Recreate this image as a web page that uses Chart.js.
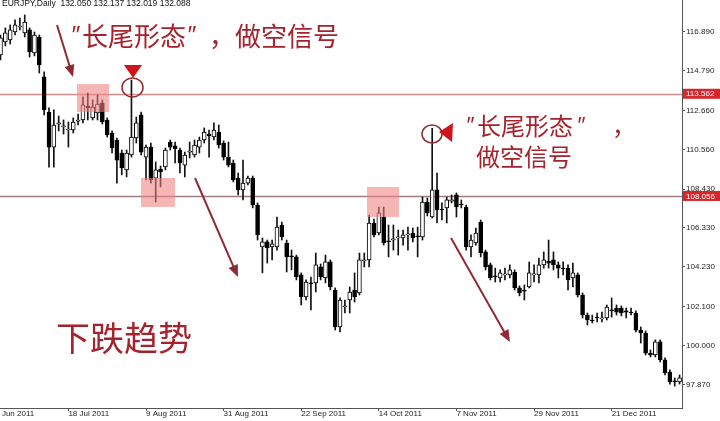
<!DOCTYPE html>
<html>
<head>
<meta charset="utf-8">
<script src="https://cdn.jsdelivr.net/npm/chart.js@4/dist/chart.umd.min.js"></script>
<style>
  html, body { margin: 0; padding: 0; background: #fff; }
  canvas { display: block; }
</style>
</head>
<body>
<canvas id="chart" width="720" height="421"></canvas>
<script>
// daily candles, one value per bar
const opens = [
  115.65, 116.35, 116.46, 116.89, 117.16, 116.84, 117.00, 115.76, 116.62, 114.47,
  112.58, 110.69, 111.93, 111.77, 111.61, 111.61, 112.09, 112.15, 112.90, 112.26,
  112.53, 113.06, 112.15, 111.45, 111.07, 110.37, 109.46, 110.26, 111.18, 112.42,
  110.15, 110.69, 109.02, 109.51, 109.62, 110.96, 110.75, 110.53, 109.72, 110.42,
  110.26, 110.69, 111.07, 111.39, 111.23, 111.50, 110.91, 110.15, 109.83, 109.02,
  108.38, 108.75, 109.02, 107.57, 105.31, 105.58, 105.31, 105.31, 106.49, 105.52,
  104.82, 104.77, 103.80, 102.61, 103.37, 103.37, 104.23, 103.64, 104.50, 102.99,
  101.00, 102.07, 102.45, 102.99, 102.83, 104.55, 104.61, 106.60, 106.06, 106.92,
  105.63, 105.68, 105.79, 105.79, 105.96, 106.06, 105.90, 105.85, 107.73, 106.92,
  108.38, 107.35, 107.41, 107.78, 108.11, 107.62, 107.46, 105.31, 105.52, 106.65,
  105.04, 104.34, 103.75, 103.64, 103.80, 103.80, 103.96, 103.10, 102.99, 103.15,
  103.80, 103.80, 104.34, 104.55, 104.61, 104.34, 104.17, 104.17, 103.64, 103.80,
  102.72, 101.64, 101.37, 101.53, 101.43, 101.48, 101.91, 102.02, 102.02, 101.86,
  101.80, 101.75, 100.83, 100.67, 99.59, 99.49, 100.19, 99.22, 98.57, 98.09,
  98.03
];
const highs = [
  116.73, 117.11, 117.27, 117.54, 117.64, 117.81, 117.11, 116.89, 116.73, 114.74,
  112.80, 112.69, 112.36, 112.15, 112.04, 112.26, 112.47, 113.39, 113.60, 113.23,
  113.50, 113.23, 112.26, 111.56, 111.18, 110.53, 110.53, 114.30, 112.31, 112.58,
  110.80, 110.91, 109.89, 109.67, 110.64, 111.07, 110.96, 110.64, 110.42, 110.96,
  111.07, 111.23, 111.72, 111.61, 111.99, 111.88, 111.02, 110.96, 109.99, 109.29,
  109.99, 109.13, 109.13, 107.68, 105.79, 105.68, 105.68, 106.92, 106.65, 105.68,
  105.14, 104.87, 103.91, 103.53, 103.69, 104.98, 104.39, 104.87, 104.61, 103.10,
  102.56, 102.45, 103.15, 103.91, 104.98, 104.98, 107.03, 106.81, 107.46, 107.46,
  106.49, 106.49, 106.22, 106.22, 106.38, 106.33, 106.38, 108.00, 107.95, 111.70,
  109.29, 107.68, 108.00, 108.11, 108.22, 107.84, 107.57, 105.96, 106.33, 106.76,
  105.14, 104.44, 104.17, 104.07, 104.17, 104.34, 104.07, 103.21, 103.26, 104.50,
  104.34, 104.71, 105.04, 105.68, 105.04, 104.50, 104.50, 104.34, 104.44, 103.91,
  102.83, 101.75, 101.64, 101.75, 101.80, 102.18, 102.56, 102.18, 102.13, 102.02,
  102.02, 101.86, 101.00, 100.78, 99.76, 100.30, 100.30, 99.33, 98.68, 98.25,
  98.41
];
const lows = [
  115.38, 116.14, 116.24, 116.73, 117.00, 116.62, 115.54, 115.60, 114.68, 112.42,
  109.61, 109.61, 111.56, 111.39, 110.69, 111.45, 111.88, 111.99, 112.15, 112.15,
  112.15, 111.93, 111.23, 110.37, 108.75, 109.19, 109.08, 110.15, 110.91, 110.26,
  108.92, 108.75, 107.73, 108.54, 109.46, 110.53, 109.83, 109.29, 109.08, 110.10,
  110.15, 110.37, 110.91, 110.15, 111.07, 110.64, 109.99, 109.62, 108.81, 108.11,
  107.84, 108.65, 107.41, 105.68, 103.91, 104.44, 104.61, 105.14, 105.68, 103.96,
  104.07, 103.53, 102.18, 102.45, 101.91, 102.88, 103.53, 103.37, 102.99, 100.83,
  100.73, 101.75, 101.75, 102.34, 102.72, 104.23, 104.23, 105.85, 105.96, 105.41,
  104.77, 105.14, 104.87, 105.41, 105.14, 105.58, 104.77, 105.68, 106.98, 106.87,
  106.60, 106.76, 106.60, 107.68, 106.92, 107.41, 105.14, 104.77, 105.41, 104.77,
  104.07, 103.53, 103.42, 103.42, 103.53, 103.64, 102.99, 102.67, 102.45, 103.10,
  103.42, 103.37, 104.17, 104.17, 104.07, 103.64, 103.80, 102.99, 103.15, 102.61,
  101.48, 101.10, 101.21, 101.27, 101.27, 101.37, 101.53, 101.64, 101.59, 101.48,
  101.64, 100.73, 100.13, 99.49, 99.38, 99.38, 99.11, 98.41, 97.92, 97.81,
  97.92
];
const closes = [
  116.57, 116.84, 117.00, 117.27, 117.21, 117.43, 115.81, 116.73, 115.11, 112.69,
  110.69, 111.88, 111.99, 111.83, 111.66, 112.04, 112.15, 112.96, 112.80, 112.85,
  113.01, 112.04, 111.34, 110.64, 109.99, 109.56, 110.37, 111.23, 111.99, 110.42,
  110.69, 108.92, 109.46, 109.35, 110.53, 110.69, 110.59, 109.83, 110.26, 110.48,
  110.80, 111.07, 111.50, 111.29, 111.61, 110.80, 110.15, 109.72, 108.92, 108.38,
  108.75, 109.02, 107.57, 105.96, 105.58, 105.25, 105.47, 106.38, 105.85, 104.77,
  104.77, 103.69, 102.61, 103.42, 103.31, 104.34, 103.69, 104.50, 103.15, 101.00,
  102.45, 102.13, 102.88, 102.61, 104.61, 104.61, 106.60, 105.96, 107.14, 105.52,
  105.58, 105.74, 105.85, 105.96, 106.01, 105.79, 105.85, 107.73, 107.14, 108.38,
  107.30, 107.30, 107.84, 107.84, 107.46, 107.57, 105.31, 105.68, 106.06, 104.98,
  104.23, 103.64, 103.69, 103.91, 103.85, 104.07, 103.10, 102.83, 102.93, 103.91,
  103.85, 104.34, 104.61, 104.44, 104.34, 104.17, 104.12, 103.53, 103.91, 102.72,
  101.64, 101.37, 101.32, 101.48, 101.48, 102.07, 101.86, 101.80, 101.75, 101.80,
  101.75, 100.83, 100.67, 99.59, 99.49, 100.19, 99.22, 98.52, 98.03, 98.03,
  98.25
];

// time axis: bar index of each labelled date
const tickBars = [-2, 14, 30, 46, 62, 78, 94, 110, 126];
const tickLabels = ['24 Jun 2011', '18 Jul 2011', '9 Aug 2011', '31 Aug 2011', '22 Sep 2011',
                    '14 Oct 2011', '7 Nov 2011', '29 Nov 2011', '21 Dec 2011'];
const priceTicks = [116.890, 114.790, 112.660, 110.560, 108.430, 106.330, 104.230, 102.100, 100.000, 97.870];
// the two horizontal price lines
const levels = [113.562, 108.056];

const axisFont = { family: '"Liberation Sans", Arial, sans-serif', size: 8 };
const red = '#a5232c';

// --- drawing helpers for the hand-drawn notes ---
function arrow(ctx, x1, y1, x2, y2) {
  const a = Math.atan2(y2 - y1, x2 - x1);
  const len = 12, half = 5;
  ctx.beginPath();
  ctx.moveTo(x1, y1);
  ctx.lineTo(x2 - Math.cos(a) * len * 0.7, y2 - Math.sin(a) * len * 0.7);
  ctx.stroke();
  ctx.beginPath();
  ctx.moveTo(x2, y2);
  ctx.lineTo(x2 - len * Math.cos(a) + half * Math.sin(a), y2 - len * Math.sin(a) - half * Math.cos(a));
  ctx.lineTo(x2 - len * Math.cos(a) - half * Math.sin(a), y2 - len * Math.sin(a) + half * Math.cos(a));
  ctx.closePath();
  ctx.fill();
}

function tri(ctx, pts) {
  ctx.beginPath();
  ctx.moveTo(pts[0], pts[1]);
  ctx.lineTo(pts[2], pts[3]);
  ctx.lineTo(pts[4], pts[5]);
  ctx.closePath();
  ctx.fill();
}

const notes = {
  id: 'notes',
  beforeDatasetsDraw(chart) {
    const ctx = chart.ctx, area = chart.chartArea, y = chart.scales.y;
    ctx.save();
    ctx.lineWidth = 1.5;
    const cols = ['rgb(216,140,140)', 'rgb(160,125,125)'];
    levels.forEach((lv, i) => {
      const py = Math.round(y.getPixelForValue(lv)) + 0.5;
      ctx.strokeStyle = cols[i];
      ctx.beginPath();
      ctx.moveTo(area.left, py);
      ctx.lineTo(area.right, py);
      ctx.stroke();
    });
    ctx.restore();
  },
  afterDatasetsDraw(chart) {
    const ctx = chart.ctx;
    ctx.save();
    // pink boxes
    ctx.fillStyle = 'rgba(240,130,130,0.58)';
    ctx.fillRect(77, 84, 32, 28);
    ctx.fillRect(141, 178, 34, 29);
    ctx.fillRect(367, 187, 32, 30);

    // arrows
    ctx.strokeStyle = '#8e2b36';
    ctx.fillStyle = '#8e2b36';
    ctx.lineWidth = 2;
    arrow(ctx, 57, 25, 73, 77);
    arrow(ctx, 195, 178, 238, 277);
    arrow(ctx, 451, 238, 510, 342);

    // circles round the long tails
    ctx.lineWidth = 1.5;
    ctx.beginPath();
    ctx.ellipse(132.5, 87.5, 10.5, 9.5, 0, 0, Math.PI * 2);
    ctx.stroke();
    ctx.beginPath();
    ctx.ellipse(432, 134, 10, 9, 0, 0, Math.PI * 2);
    ctx.stroke();

    // red markers
    ctx.fillStyle = '#d0141c';
    tri(ctx, [124, 65, 142, 65, 133, 78]);
    tri(ctx, [439, 132, 453, 123, 452, 142]);

    // texts
    ctx.fillStyle = red;
    ctx.textBaseline = 'middle';
    ctx.textAlign = 'left';
    ctx.font = '26px "Noto Sans CJK SC"';
    ctx.fillText('长尾形态', 82, 36);
    ctx.fillText('，做空信号', 209, 36);
    ctx.font = 'italic 24px "Noto Sans"';
    ctx.fillText('"', 70, 36);
    ctx.fillText('"', 186, 36);

    ctx.font = '24px "Noto Sans CJK SC"';
    ctx.fillText('长尾形态', 477, 126);
    ctx.fillText('，', 612, 126);
    ctx.fillText('做空信号', 476, 157);
    ctx.font = 'italic 22px "Noto Sans"';
    ctx.fillText('"', 465, 127);
    ctx.fillText('"', 576, 127);

    ctx.font = '34px "Noto Sans CJK SC"';
    ctx.fillText('下跌趋势', 56, 338);
    ctx.restore();
  },
  afterDraw(chart) {
    const ctx = chart.ctx, y = chart.scales.y, area = chart.chartArea;
    ctx.save();
    // header line, cut at the top as in the screenshot
    ctx.fillStyle = '#111';
    ctx.font = '8.5px "Liberation Sans", Arial, sans-serif';
    ctx.textBaseline = 'alphabetic';
    ctx.fillText('EURJPY,Daily  132.050 132.137 132.019 132.088', 2, 5.5);
    // price boxes on the axis
    ctx.font = '8px "Liberation Sans", Arial, sans-serif';
    ctx.textBaseline = 'middle';
    levels.forEach(lv => {
      const py = y.getPixelForValue(lv);
      ctx.fillStyle = '#d8252b';
      ctx.fillRect(area.right + 1, py - 5, 40, 10);
      ctx.fillStyle = '#fff';
      ctx.fillText(lv.toFixed(3), area.right + 4, py + 0.5);
    });
    ctx.restore();
  }
};

new Chart(document.getElementById('chart'), {
  type: 'bar',
  data: {
    datasets: [
      {
        label: 'body',
        order: 0,
        data: opens.map((o, i) => ({ x: i, y: [o, closes[i]] })),
        backgroundColor: ctx => closes[ctx.dataIndex] >= opens[ctx.dataIndex] ? '#ffffff' : '#000000',
        borderColor: '#000',
        borderWidth: 1,
        borderSkipped: false,
        barThickness: 4,
        minBarLength: 1,
        grouped: false
      },
      {
        label: 'wick',
        order: 1,
        data: lows.map((l, i) => ({ x: i, y: [l, highs[i]] })),
        backgroundColor: '#111',
        borderWidth: 0,
        barThickness: 1,
        grouped: false
      }
    ]
  },
  options: {
    responsive: false,
    animation: false,
    devicePixelRatio: 1,
    layout: { padding: 0 },
    plugins: { legend: { display: false }, tooltip: { enabled: false } },
    scales: {
      x: {
        type: 'linear',
        offset: false,
        min: -0.1,
        max: 140.5,
        afterBuildTicks: s => { s.ticks = tickBars.map(v => ({ value: v })); },
        afterFit: s => { s.height = 13; s.paddingLeft = 0; s.paddingRight = 0; },
        ticks: {
          callback: (v, i) => tickLabels[i],
          align: 'start',
          autoSkip: false,
          maxRotation: 0,
          padding: -2,
          color: '#222',
          font: axisFont
        },
        grid: { offset: false, drawOnChartArea: false, tickLength: 3, color: '#555' },
        border: { display: true, color: '#555' }
      },
      y: {
        position: 'right',
        min: 96.63,
        max: 118.614,
        afterBuildTicks: s => { s.ticks = priceTicks.map(v => ({ value: v })); },
        afterFit: s => { s.width = 38; s.paddingTop = 0; s.paddingBottom = 0; },
        ticks: {
          callback: v => v.toFixed(3),
          padding: 1,
          color: '#222',
          font: axisFont
        },
        grid: { drawOnChartArea: false, tickLength: 3, color: '#555' },
        border: { display: true, color: '#555' }
      }
    }
  },
  plugins: [notes]
});
</script>
</body>
</html>
